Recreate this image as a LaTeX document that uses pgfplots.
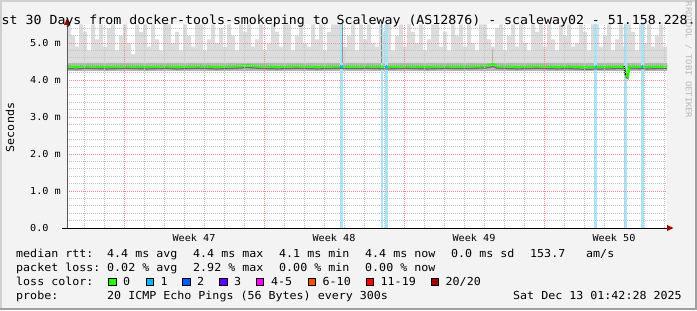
\documentclass[border=0pt]{standalone}
\usepackage{pgfplots}
\pgfplotsset{compat=1.18}
\usepackage{pgfplotstable}
\usepackage{fontspec}
\setmainfont{DejaVu Sans Mono}[FakeStretch=1.06]
\definecolor{bgc}{RGB}{243,243,243}
\definecolor{smokel}{RGB}{220,220,220}
\definecolor{smokem}{RGB}{180,180,180}
\definecolor{smoked}{RGB}{105,105,105}
\definecolor{medgreen}{RGB}{38,255,0}
\definecolor{lossbg}{RGB}{168,228,250}
\definecolor{lc0}{RGB}{38,255,0}
\definecolor{lc1}{RGB}{0,184,255}
\definecolor{lc2}{RGB}{0,89,255}
\definecolor{lc3}{RGB}{94,0,255}
\definecolor{lc4}{RGB}{255,0,255}
\definecolor{lc5}{RGB}{255,85,0}
\definecolor{lc6}{RGB}{255,0,0}
\definecolor{lc7}{RGB}{161,0,0}
\definecolor{arrowred}{RGB}{160,0,0}
\definecolor{majgrid}{RGB}{255,140,140}
\definecolor{mingrid}{RGB}{195,195,195}
\definecolor{edgelight}{RGB}{208,208,208}
\definecolor{edgedark}{RGB}{160,160,160}

\pgfplotstableread{
x top
0.0 5.5
0.2 5.2
0.4 4.9
0.6 5.5
0.8 5.3
1.0 4.8
1.2 5.5
1.4 5.1
1.6 5.5
1.8 4.9
2.0 5.4
2.2 5.5
2.4 4.8
2.6 5.2
2.8 5.5
3.0 5.0
3.2 4.7
3.4 5.5
3.6 5.3
3.8 5.5
4.0 4.9
4.2 5.5
4.4 5.1
4.6 4.8
4.8 5.5
5.0 5.5
5.2 5.0
5.4 5.3
5.6 4.8
5.8 5.5
6.0 5.2
6.2 4.9
6.4 5.5
6.6 5.5
6.8 4.8
7.0 5.1
7.2 5.5
7.4 5.0
7.6 5.4
7.8 4.9
8.0 5.5
8.2 5.2
8.4 4.8
8.6 5.5
8.8 5.3
9.0 5.5
9.2 4.9
9.4 5.1
9.6 5.5
9.8 4.8
10.0 5.0
10.2 5.5
10.4 5.3
10.6 4.9
10.8 5.5
11.0 5.5
11.2 4.8
11.4 5.2
11.6 5.5
11.8 5.0
12.0 4.9
12.2 5.5
12.4 5.1
12.6 5.5
12.8 4.8
13.0 5.3
13.2 5.5
13.4 5.5
13.6 5.5
13.8 4.9
14.0 5.2
14.2 5.5
14.4 4.8
14.6 5.5
14.8 5.1
15.0 5.5
15.2 5.0
15.4 4.9
15.6 5.5
15.8 5.3
16.0 5.5
16.2 4.8
16.4 5.2
16.6 5.5
16.8 4.9
17.0 5.5
17.2 5.3
17.4 5.0
17.6 5.5
17.8 4.8
18.0 5.1
18.2 5.5
18.4 5.5
18.6 4.9
18.8 5.3
19.0 4.8
19.2 5.5
19.4 5.2
19.6 5.5
19.8 4.9
20.0 5.5
20.2 5.0
20.4 4.8
20.6 5.5
20.8 5.5
21.0 5.1
21.2 4.9
21.4 5.4
21.6 5.5
21.8 4.8
22.0 5.2
22.2 5.5
22.4 4.9
22.6 5.5
22.8 5.0
23.0 4.8
23.2 5.5
23.4 5.3
23.6 5.5
23.8 4.9
24.0 5.5
24.2 5.1
24.4 4.8
24.6 5.5
24.8 5.2
25.0 5.5
25.2 4.9
25.4 5.0
25.6 5.5
25.8 5.3
26.0 4.8
26.2 5.5
26.4 5.5
26.6 4.9
26.8 5.2
27.0 5.5
27.2 4.8
27.4 5.1
27.6 5.5
27.8 4.9
28.0 5.5
28.2 5.3
28.4 4.8
28.6 5.5
28.8 5.0
29.0 5.5
29.2 4.9
29.4 5.2
29.6 5.5
29.8 4.9
30.0 4.9
}\smoketop

\pgfplotstableread{
x y
0.0 4.37
0.5 4.36
1.0 4.38
1.5 4.37
2.0 4.36
2.5 4.37
3.0 4.38
3.5 4.37
4.0 4.36
4.5 4.37
5.0 4.38
5.5 4.36
6.0 4.37
6.5 4.38
7.0 4.37
7.5 4.36
8.0 4.37
8.5 4.38
9.0 4.40
9.5 4.38
10.0 4.37
10.5 4.36
11.0 4.37
11.5 4.38
12.0 4.37
12.5 4.36
13.0 4.37
13.5 4.38
14.0 4.37
14.5 4.37
15.0 4.38
15.5 4.37
16.0 4.36
16.5 4.37
17.0 4.38
17.5 4.37
18.0 4.36
18.5 4.37
19.0 4.38
19.5 4.37
20.0 4.37
20.5 4.38
21.0 4.39
21.3 4.43
21.5 4.38
22.0 4.37
22.5 4.36
23.0 4.37
23.5 4.38
24.0 4.37
24.5 4.36
25.0 4.37
25.5 4.36
26.0 4.35
26.5 4.36
27.0 4.36
27.5 4.37
27.85 4.37
27.95 4.14
28.05 4.10
28.1 4.37
28.5 4.37
29.0 4.36
29.5 4.37
30.0 4.37
}\median

\begin{document}
\begin{tikzpicture}[x=1bp,y=1bp]
\fill[bgc] (0,0) rectangle (697,310);
\fill[edgelight] (0,307.5) rectangle (697,310);
\fill[edgelight] (0,0) rectangle (2,310);
\fill[edgedark] (694.5,0) rectangle (697,310);
\fill[edgedark] (0,0) rectangle (697,2.5);

\begin{axis}[
  at={(67bp,82bp)}, anchor=south west, scale only axis,
  width=600bp, height=203.5bp,
  xmin=0, xmax=30, ymin=0, ymax=5.5,
  axis line style={draw=none},
  axis background/.style={fill=white},
  xtick={2.85,9.85,16.85,23.85},
  xticklabels={,,,},
  minor xtick={0.85,1.85,3.85,4.85,5.85,6.85,7.85,8.85,10.85,11.85,12.85,13.85,14.85,15.85,17.85,18.85,19.85,20.85,21.85,22.85,24.85,25.85,26.85,27.85,28.85,29.85},
  ytick={1,2,3,4,5},
  yticklabels={,,,,},
  minor ytick={0.2,0.4,0.6,0.8,1.2,1.4,1.6,1.8,2.2,2.4,2.6,2.8,3.2,3.4,3.6,3.8,4.2,4.4,4.6,4.8,5.2,5.4},
  major tick length=0pt, minor tick length=0pt,
  grid=both,
  major grid style={majgrid, line width=0.7bp, dash pattern=on 1bp off 1bp},
  minor grid style={mingrid, line width=0.7bp, dash pattern=on 1bp off 1bp},
  axis on top,
]
\addplot[draw=none, fill=smokel, const plot] table[x=x,y=top]{\smoketop} \closedcycle;
\addplot[draw=none, fill=smokem] coordinates {(0,4.47) (30,4.47)} \closedcycle;
\addplot[draw=none, fill=white] coordinates {(0,4.24) (30,4.24)} \closedcycle;
% loss background (1/20 lost)
\addplot[lossbg, line width=3bp] coordinates {(13.72,0) (13.72,5.5)};
\addplot[lossbg, line width=2bp] coordinates {(15.75,0) (15.75,5.5)};
\addplot[lossbg, line width=3bp] coordinates {(15.97,0) (15.97,5.5)};
\addplot[lossbg, line width=3bp] coordinates {(26.42,0) (26.42,5.5)};
\addplot[lossbg, line width=3bp] coordinates {(27.9,0) (27.9,5.5)};
\addplot[lossbg, line width=3bp] coordinates {(28.75,0) (28.75,5.5)};
% dark smoke spikes
\addplot[smoked!70, line width=1.6bp] coordinates {(13.78,4.45) (13.78,5.5)};
\addplot[smoked!80, line width=1.6bp] coordinates {(15.72,4.45) (15.72,5.5)};
\addplot[smoked!50, line width=1.2bp] coordinates {(21.28,4.45) (21.28,4.85)};
% median
\addplot[smoked, line width=1.2bp, yshift=-2.3bp] table[x=x,y=y]{\median};
\addplot[medgreen, line width=2.4bp] table[x=x,y=y]{\median};
\addplot[lc1, line width=2.4bp] coordinates {(13.66,4.37) (13.78,4.37)};
\addplot[lc1, line width=2.4bp] coordinates {(15.9,4.37) (16.03,4.37)};
\addplot[lc1, line width=2.4bp] coordinates {(26.38,4.36) (26.48,4.36)};
\addplot[lc1, line width=2.4bp] coordinates {(28.7,4.37) (28.8,4.37)};
\addplot[black, line width=1.2bp] coordinates {(27.86,4.38) (27.92,4.13)};
\end{axis}

% axis lines and arrows
\draw[black, line width=1bp] (62,82) -- (668,82);
\fill[arrowred] (667,79) -- (673.5,82) -- (667,85) -- cycle;
\draw[gray!70!black, line width=1bp] (67,82) -- (67,285);
\fill[arrowred] (64,285) -- (67,291.5) -- (70,285) -- cycle;

% title
\node[anchor=base west, inner sep=0pt, font=\fontsize{12.5bp}{14bp}\selectfont] at (1.5,286) {st 30 Days from docker-tools-smokeping to Scaleway (AS12876) - scaleway02 - 51.158.228.};

% y tick labels
\begin{scope}[every node/.style={anchor=base west, inner sep=0pt, font=\fontsize{9.6bp}{11bp}\selectfont}]
\node at (30,78.5) {0.0};
\node at (30,115.5) {1.0 m};
\node at (30,152.5) {2.0 m};
\node at (30,189.5) {3.0 m};
\node at (30,226.5) {4.0 m};
\node at (30,263.5) {5.0 m};
\end{scope}
% week labels
\begin{scope}[every node/.style={anchor=base, inner sep=0pt, font=\fontsize{9.6bp}{11bp}\selectfont}]
\node at (194,69) {Week 47};
\node at (334,69) {Week 48};
\node at (474,69) {Week 49};
\node at (614,69) {Week 50};
\end{scope}

\node[rotate=90, inner sep=0pt, font=\fontsize{11bp}{12bp}\selectfont] at (10,182.5) {Seconds};
\node[rotate=-90, inner sep=0pt, text=gray!55, font=\fontsize{8.3bp}{9bp}\selectfont] at (688.5,250) {RRDTOOL / TOBI OETIKER};

% legend / statistics
\begin{scope}[every node/.style={anchor=base west, inner sep=0pt, font=\fontsize{11bp}{12bp}\selectfont}]
\node at (16,52.3) {median rtt:};
\node at (107,52.3) {4.4 ms avg};
\node at (193,52.3) {4.4 ms max};
\node at (279,52.3) {4.1 ms min};
\node at (365,52.3) {4.4 ms now};
\node at (451,52.3) {0.0 ms sd};
\node at (530,52.3) {153.7};
\node at (586,52.3) {am/s};
\node at (16,38.3) {packet loss:};
\node at (107,38.3) {0.02 \% avg};
\node at (193,38.3) {2.92 \% max};
\node at (279,38.3) {0.00 \% min};
\node at (365,38.3) {0.00 \% now};
\node at (16,24.2) {loss color:};
\node at (123,24.2) {0};
\node at (160.5,24.2) {1};
\node at (197,24.2) {2};
\node at (234,24.2) {3};
\node at (271,24.2) {4-5};
\node at (322.5,24.2) {6-10};
\node at (380.5,24.2) {11-19};
\node at (445.5,24.2) {20/20};
\node at (16,10.7) {probe:};
\node at (107,10.7) {20 ICMP Echo Pings (56 Bytes) every 300s};
\node at (513,10.7) {Sat Dec 13 01:42:28 2025};
\end{scope}
\foreach \bx/\bc in {108.5/lc0,146/lc1,182.5/lc2,219.5/lc3,256/lc4,308/lc5,366/lc6,431/lc7}{
  \filldraw[fill=\bc, draw=black, line width=0.9bp] (\bx,24.5) rectangle ++(7.5,7.5);
}
\pgfresetboundingbox
\path[use as bounding box] (0,0) rectangle (697,310);
\end{tikzpicture}
\end{document}
